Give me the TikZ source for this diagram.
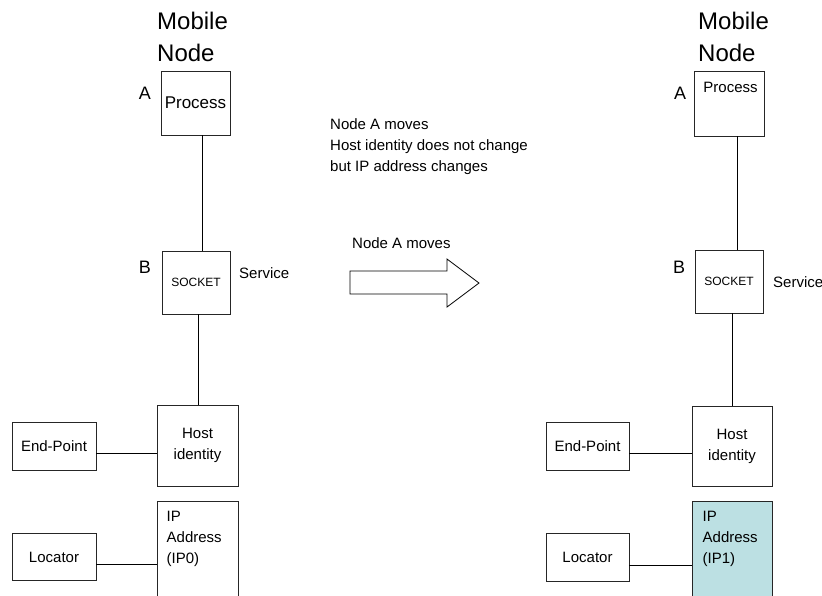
\documentclass[tikz,border=0pt]{standalone}
\usepackage{fontspec}
\setmainfont{Liberation Sans}
\begin{document}
\begin{tikzpicture}[x=1pt,y=-1pt,
  box/.style={draw=black!85,line width=0.8pt,inner sep=0pt,minimum width=#1},
  box/.default=68,
  txt/.style={font=\fontsize{15}{21}\selectfont,inner sep=0pt},
  bigtxt/.style={font=\fontsize{17}{21}\selectfont,inner sep=0pt},
  big/.style={font=\fontsize{24}{32}\selectfont,inner sep=0pt,anchor=west},
  letter/.style={font=\fontsize{18}{22}\selectfont,inner sep=0pt},
  small/.style={font=\fontsize{12}{14}\selectfont,inner sep=0pt},
  link/.style={line width=0.8pt}]
\definecolor{ipblue}{HTML}{BCE0E3}
\useasboundingbox (0,0) rectangle (822,595);
\clip (0,0) rectangle (822,595);

% ---------- left mobile node ----------
\node[big] (mnl1) at (157,21) {Mobile};
\node[big] (mnl2) at (157,53) {Node};
\node[box=69,minimum height=64,bigtxt] (proc) at (195.5,103) {Process};
\node[letter] (al) at (145,93) {A};
\node[box=68,minimum height=63,small] (sock) at (196,282.5) {SOCKET};
\node[letter] (bl) at (145,267) {B};
\node[txt,anchor=west] (servl) at (239,273) {Service};
\node[box=81,minimum height=81,txt,align=center] (host) at (197.5,445.5) {Host\\identity};
\node[box=84,minimum height=48,txt] (endp) at (54,446) {End-Point};
\node[box=81,minimum height=120] (ip) at (197.5,561) {};
\node[txt,anchor=north west,align=left] (iptxt) at (166.5,510.5) {IP\\Address\\(IP0)};
\node[box=84,minimum height=47,txt] (loc) at (54,557) {Locator};

\draw[link] ([xshift=6.5pt]proc.south) -- ([xshift=6.5pt]proc.south |- sock.north);
\draw[link] ([xshift=2pt]sock.south) -- ([xshift=2pt]sock.south |- host.north);
\draw[link] ([yshift=-7pt]endp.east) -- ([yshift=-7pt]endp.east -| host.west);
\draw[link] ([yshift=-7pt]loc.east) -- ([yshift=-7pt]loc.east -| ip.west);

% ---------- transition ----------
\node[txt,anchor=west,align=left] (note) at (330,147) {Node A moves\\Host identity does not change\\but IP address changes};
\node[txt,anchor=west] (movel) at (352,243) {Node A moves};
\draw[line width=0.8pt,fill=white] (350,271) -- (447,271) -- (447,259) -- (479,283)
  -- (447,307) -- (447,294) -- (350,294) -- cycle;

% ---------- right mobile node ----------
\node[big] (mnr1) at (698,21) {Mobile};
\node[big] (mnr2) at (698,53) {Node};
\node[box=70,minimum height=65] (proc2) at (729,103.5) {};
\node[txt] (proc2txt) at (730.5,87) {Process};
\node[letter] (ar) at (680,93) {A};
\node[box=68,minimum height=63,small] (sock2) at (729,281.5) {SOCKET};
\node[letter] (br) at (679,267) {B};
\node[txt,anchor=west] (servr) at (773,282) {Service};
\node[box=80,minimum height=80,txt,align=center] (host2) at (732,446) {Host\\identity};
\node[box=83,minimum height=48,txt] (endp2) at (587.5,446) {End-Point};
\node[box=80,minimum height=120,fill=ipblue] (ip2) at (732,561) {};
\node[txt,anchor=north west,align=left] (ip2txt) at (702.5,510.5) {IP\\Address\\(IP1)};
\node[box=83,minimum height=48,txt] (loc2) at (587.5,557) {Locator};

\draw[link] ([xshift=8pt]proc2.south) -- ([xshift=8pt]proc2.south |- sock2.north);
\draw[link] ([xshift=3pt]sock2.south) -- ([xshift=3pt]sock2.south |- host2.north);
\draw[link] ([yshift=-7pt]endp2.east) -- ([yshift=-7pt]endp2.east -| host2.west);
\draw[link] ([yshift=-8pt]loc2.east) -- ([yshift=-8pt]loc2.east -| ip2.west);
\end{tikzpicture}
\end{document}
